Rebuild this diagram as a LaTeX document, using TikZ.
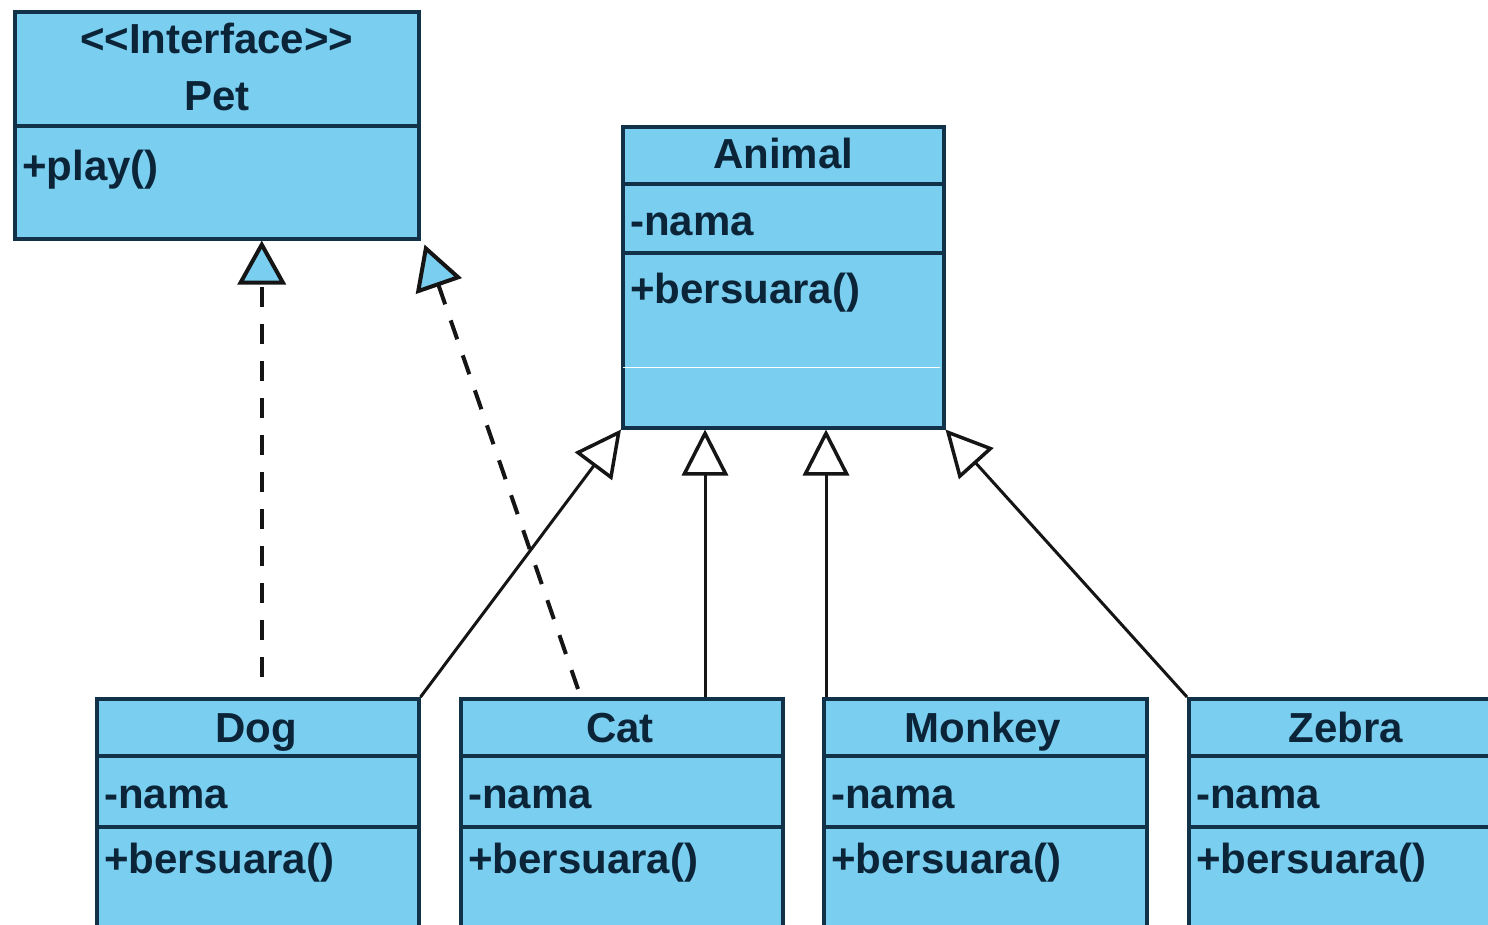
\documentclass[tikz,border=0pt]{standalone}
\usepackage{fontspec}
\setmainfont{Liberation Sans}
\usetikzlibrary{arrows.meta,calc}
\definecolor{umlfill}{HTML}{7ACEF0}
\definecolor{umlline}{HTML}{12324A}
\definecolor{umltext}{HTML}{0B2438}
\definecolor{conn}{HTML}{151515}
\begin{document}
\begin{tikzpicture}[x=1pt,y=-1pt,
  classbox/.style={draw=umlline, fill=umlfill, line width=3.5pt, anchor=north west, inner sep=0pt, rectangle},
  divider/.style={draw=umlline, line width=4pt},
  title/.style={anchor=base, inner sep=0pt, text=umltext, font=\fontsize{42}{50}\selectfont\bfseries},
  member/.style={anchor=base west, inner sep=0pt, text=umltext, font=\fontsize{42}{50}\selectfont\bfseries},
  dashconn/.style={draw=conn, line width=4pt, dash pattern=on 20pt off 17pt},
  solidconn/.style={draw=conn, line width=3pt},
  realize/.style={-{Triangle[length=44pt,width=48pt,fill=umlfill,line width=4pt]}},
  inherit/.style={-{Triangle[length=46pt,width=46pt,fill=white,line width=3.5pt]}}
]
\clip (0,0) rectangle (1488,924);
\fill[white] (0,0) rectangle (1488,924);

% Pet interface
\node[classbox, minimum width=404pt, minimum height=227pt] (Pet) at (13,10) {};
\draw[divider] (Pet.west |- 0,126) -- (Pet.east |- 0,126);
\node[title] (petStereo) at (Pet.north |- 0,53) {{<}{<}Interface{>}{>}};
\node[title] (petName) at (Pet.north |- 0,110) {Pet};
\node[member] (petM1) at (22,180) {+play()};

% Animal
\node[classbox, minimum width=321pt, minimum height=301pt] (Animal) at (621,125) {};
\draw[divider] (Animal.west |- 0,184) -- (Animal.east |- 0,184);
\draw[divider] (Animal.west |- 0,253) -- (Animal.east |- 0,253);
\draw[white, line width=1pt] (623,367) -- (940,367);
\node[title] (animalName) at (Animal.north |- 0,168) {Animal};
\node[member] (animalA1) at (630,235) {-nama};
\node[member] (animalM1) at (630,303) {+bersuara()};

% Subclasses
\foreach \nm/\xl/\w in {Dog/95/322, Cat/459/322, Monkey/822/323, Zebra/1187/330}{
  \node[classbox, minimum width=\w pt, minimum height=262pt] (\nm) at (\xl,697) {};
  \draw[divider] (\nm.west |- 0,756) -- (\nm.east |- 0,756);
  \draw[divider] (\nm.west |- 0,827) -- (\nm.east |- 0,827);
  \node[member] (\nm A1) at (\xl+9,808) {-nama};
  \node[member] (\nm M1) at (\xl+9,873) {+bersuara()};
}
\node[title] (dogName) at (256,742) {Dog};
\node[title] (catName) at (620,742) {Cat};
\node[title] (monkeyName) at (983,742) {Monkey};
\node[title] (zebraName) at (1346,742) {Zebra};

% Realization (dashed) to Pet
\coordinate (dogTop) at ($(Dog.north)+(4,-20)$);
\draw[dashconn, realize] (dogTop) -- (dogTop |- Pet.south);
\coordinate (catTopA) at ($(Cat.north west)+(119,-8)$);
\draw[dashconn, realize] (catTopA) -- ($(Pet.south east)+(4,4)$);

% Generalization to Animal
\draw[solidconn, inherit] (Dog.north east) -- (Animal.south west);
\coordinate (catTopB) at ($(Cat.north west)+(246,0)$);
\draw[solidconn, inherit] (catTopB) -- (catTopB |- Animal.south);
\coordinate (monkeyTop) at ($(Monkey.north west)+(4,0)$);
\draw[solidconn, inherit] (monkeyTop) -- (monkeyTop |- Animal.south);
\draw[solidconn, inherit] (Zebra.north west) -- (Animal.south east);
\end{tikzpicture}
\end{document}
